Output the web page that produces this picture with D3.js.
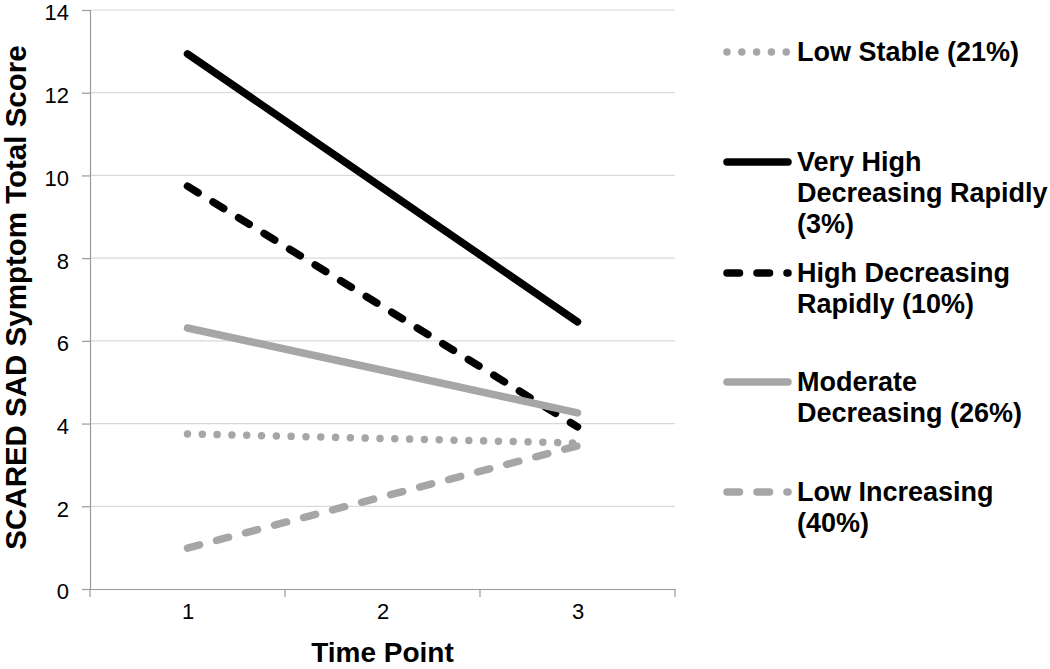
<!DOCTYPE html>
<html>
<head>
<meta charset="utf-8">
<script src="https://cdn.jsdelivr.net/npm/d3@7"></script>
<style>
  html, body { margin: 0; padding: 0; background: #fff; }
  svg { display: block; font-family: "Liberation Sans", Arial, sans-serif; }
</style>
</head>
<body>
<svg id="chart" width="1050" height="669"></svg>
<script>
// ---- data ----
const timePoints = ["1", "2", "3"];
const yTicks = [0, 2, 4, 6, 8, 10, 12, 14];

const lowStable   = [3.75, 3.64, 3.53];
const veryHigh    = [12.94, 9.70, 6.46];
const highDec     = [9.74, 6.83, 3.92];
const moderateDec = [6.31, 5.29, 4.26];
const lowInc      = [0.99, 2.23, 3.46];

const seriesLabels = [
  ["Low Stable (21%)"],
  ["Very High", "Decreasing Rapidly", "(3%)"],
  ["High Decreasing", "Rapidly (10%)"],
  ["Moderate", "Decreasing (26%)"],
  ["Low Increasing", "(40%)"]
];
const seriesValues = [lowStable, veryHigh, highDec, moderateDec, lowInc];

// ---- styles ----
const styles = [
  { color: "#a6a6a6", dash: "0.01,14.8" },
  { color: "#000000", dash: null },
  { color: "#000000", dash: "12.5,17.5" },
  { color: "#a6a6a6", dash: null },
  { color: "#a6a6a6", dash: "12.5,17.5" }
];
const lineWidth = 7.5;

const svg = d3.select("#chart");
const plotLeft = 90, plotRight = 675, plotTop = 10, plotBottom = 589;

const x = d3.scalePoint().domain(timePoints).range([plotLeft, plotRight]).padding(0.5);
const y = d3.scaleLinear().domain([0, 14]).range([plotBottom, plotTop]);

// gridlines
svg.append("g")
  .selectAll("line")
  .data(yTicks.filter(d => d > 0))
  .join("line")
  .attr("x1", plotLeft).attr("x2", plotRight)
  .attr("y1", d => y(d)).attr("y2", d => y(d))
  .attr("stroke", "#d9d9d9").attr("stroke-width", 1.2);

// y axis
const yAxis = svg.append("g")
  .attr("transform", `translate(${plotLeft},0)`)
  .call(d3.axisLeft(y).tickValues(yTicks).tickSize(8).tickPadding(13).tickFormat(d3.format("d")));
yAxis.select(".domain").attr("stroke", "#9a9a9a").attr("stroke-width", 1.2);
yAxis.selectAll(".tick line").attr("stroke", "#9a9a9a").attr("stroke-width", 1.2);
yAxis.selectAll(".tick text")
  .attr("font-size", 22).attr("fill", "#000").attr("dy", "0.45em")
  .attr("font-family", "Liberation Sans, Arial, sans-serif");

// x axis
const xBand = d3.scaleBand().domain(timePoints).range([plotLeft, plotRight]);
const xAxis = svg.append("g")
  .attr("transform", `translate(0,${plotBottom})`)
  .call(d3.axisBottom(x).tickSize(0).tickPadding(14));
xAxis.select(".domain").attr("stroke", "#9a9a9a").attr("stroke-width", 1.2);
xAxis.selectAll(".tick text")
  .attr("font-size", 22).attr("fill", "#000")
  .attr("font-family", "Liberation Sans, Arial, sans-serif");
// category boundary tick marks
const boundaries = timePoints.map(d => xBand(d)).concat([xBand.range()[1]]);
xAxis.selectAll("line.bound")
  .data(boundaries)
  .join("line")
  .attr("class", "bound")
  .attr("x1", d => d).attr("x2", d => d)
  .attr("y1", 0).attr("y2", 8)
  .attr("stroke", "#9a9a9a").attr("stroke-width", 1.2);

// axis titles
svg.append("text")
  .attr("transform", `translate(26,${(plotTop + plotBottom) / 2 - 2}) rotate(-90)`)
  .attr("text-anchor", "middle")
  .attr("font-size", 29.5).attr("font-weight", "bold")
  .text("SCARED SAD Symptom Total Score");

svg.append("text")
  .attr("x", x("2")).attr("y", 662)
  .attr("text-anchor", "middle")
  .attr("font-size", 28).attr("font-weight", "bold")
  .text("Time Point");

// lines
const lineGen = d3.line()
  .x((d, i) => x(timePoints[i]))
  .y(d => y(d));

svg.append("g")
  .selectAll("path")
  .data(seriesValues)
  .join("path")
  .attr("d", d => lineGen(d))
  .attr("fill", "none")
  .attr("stroke", (d, i) => styles[i].color)
  .attr("stroke-width", lineWidth)
  .attr("stroke-linecap", "round")
  .attr("stroke-linejoin", "round")
  .attr("stroke-dasharray", (d, i) => styles[i].dash);

// legend
const legendLineY = [52, 162, 273, 382, 492];
const legend = svg.append("g");
seriesLabels.forEach((lines, i) => {
  const g = legend.append("g").attr("transform", `translate(0,${legendLineY[i]})`);
  g.append("line")
    .attr("x1", 727).attr("x2", 788)
    .attr("y1", 0).attr("y2", 0)
    .attr("stroke", styles[i].color)
    .attr("stroke-width", lineWidth)
    .attr("stroke-linecap", "round")
    .attr("stroke-dasharray", styles[i].dash);
  const t = g.append("text")
    .attr("x", 797).attr("y", 9)
    .attr("font-size", 27).attr("font-weight", "bold").attr("fill", "#000");
  lines.forEach((ln, j) => {
    t.append("tspan").attr("x", 797).attr("dy", j === 0 ? 0 : 31).text(ln);
  });
});
</script>
</body>
</html>
